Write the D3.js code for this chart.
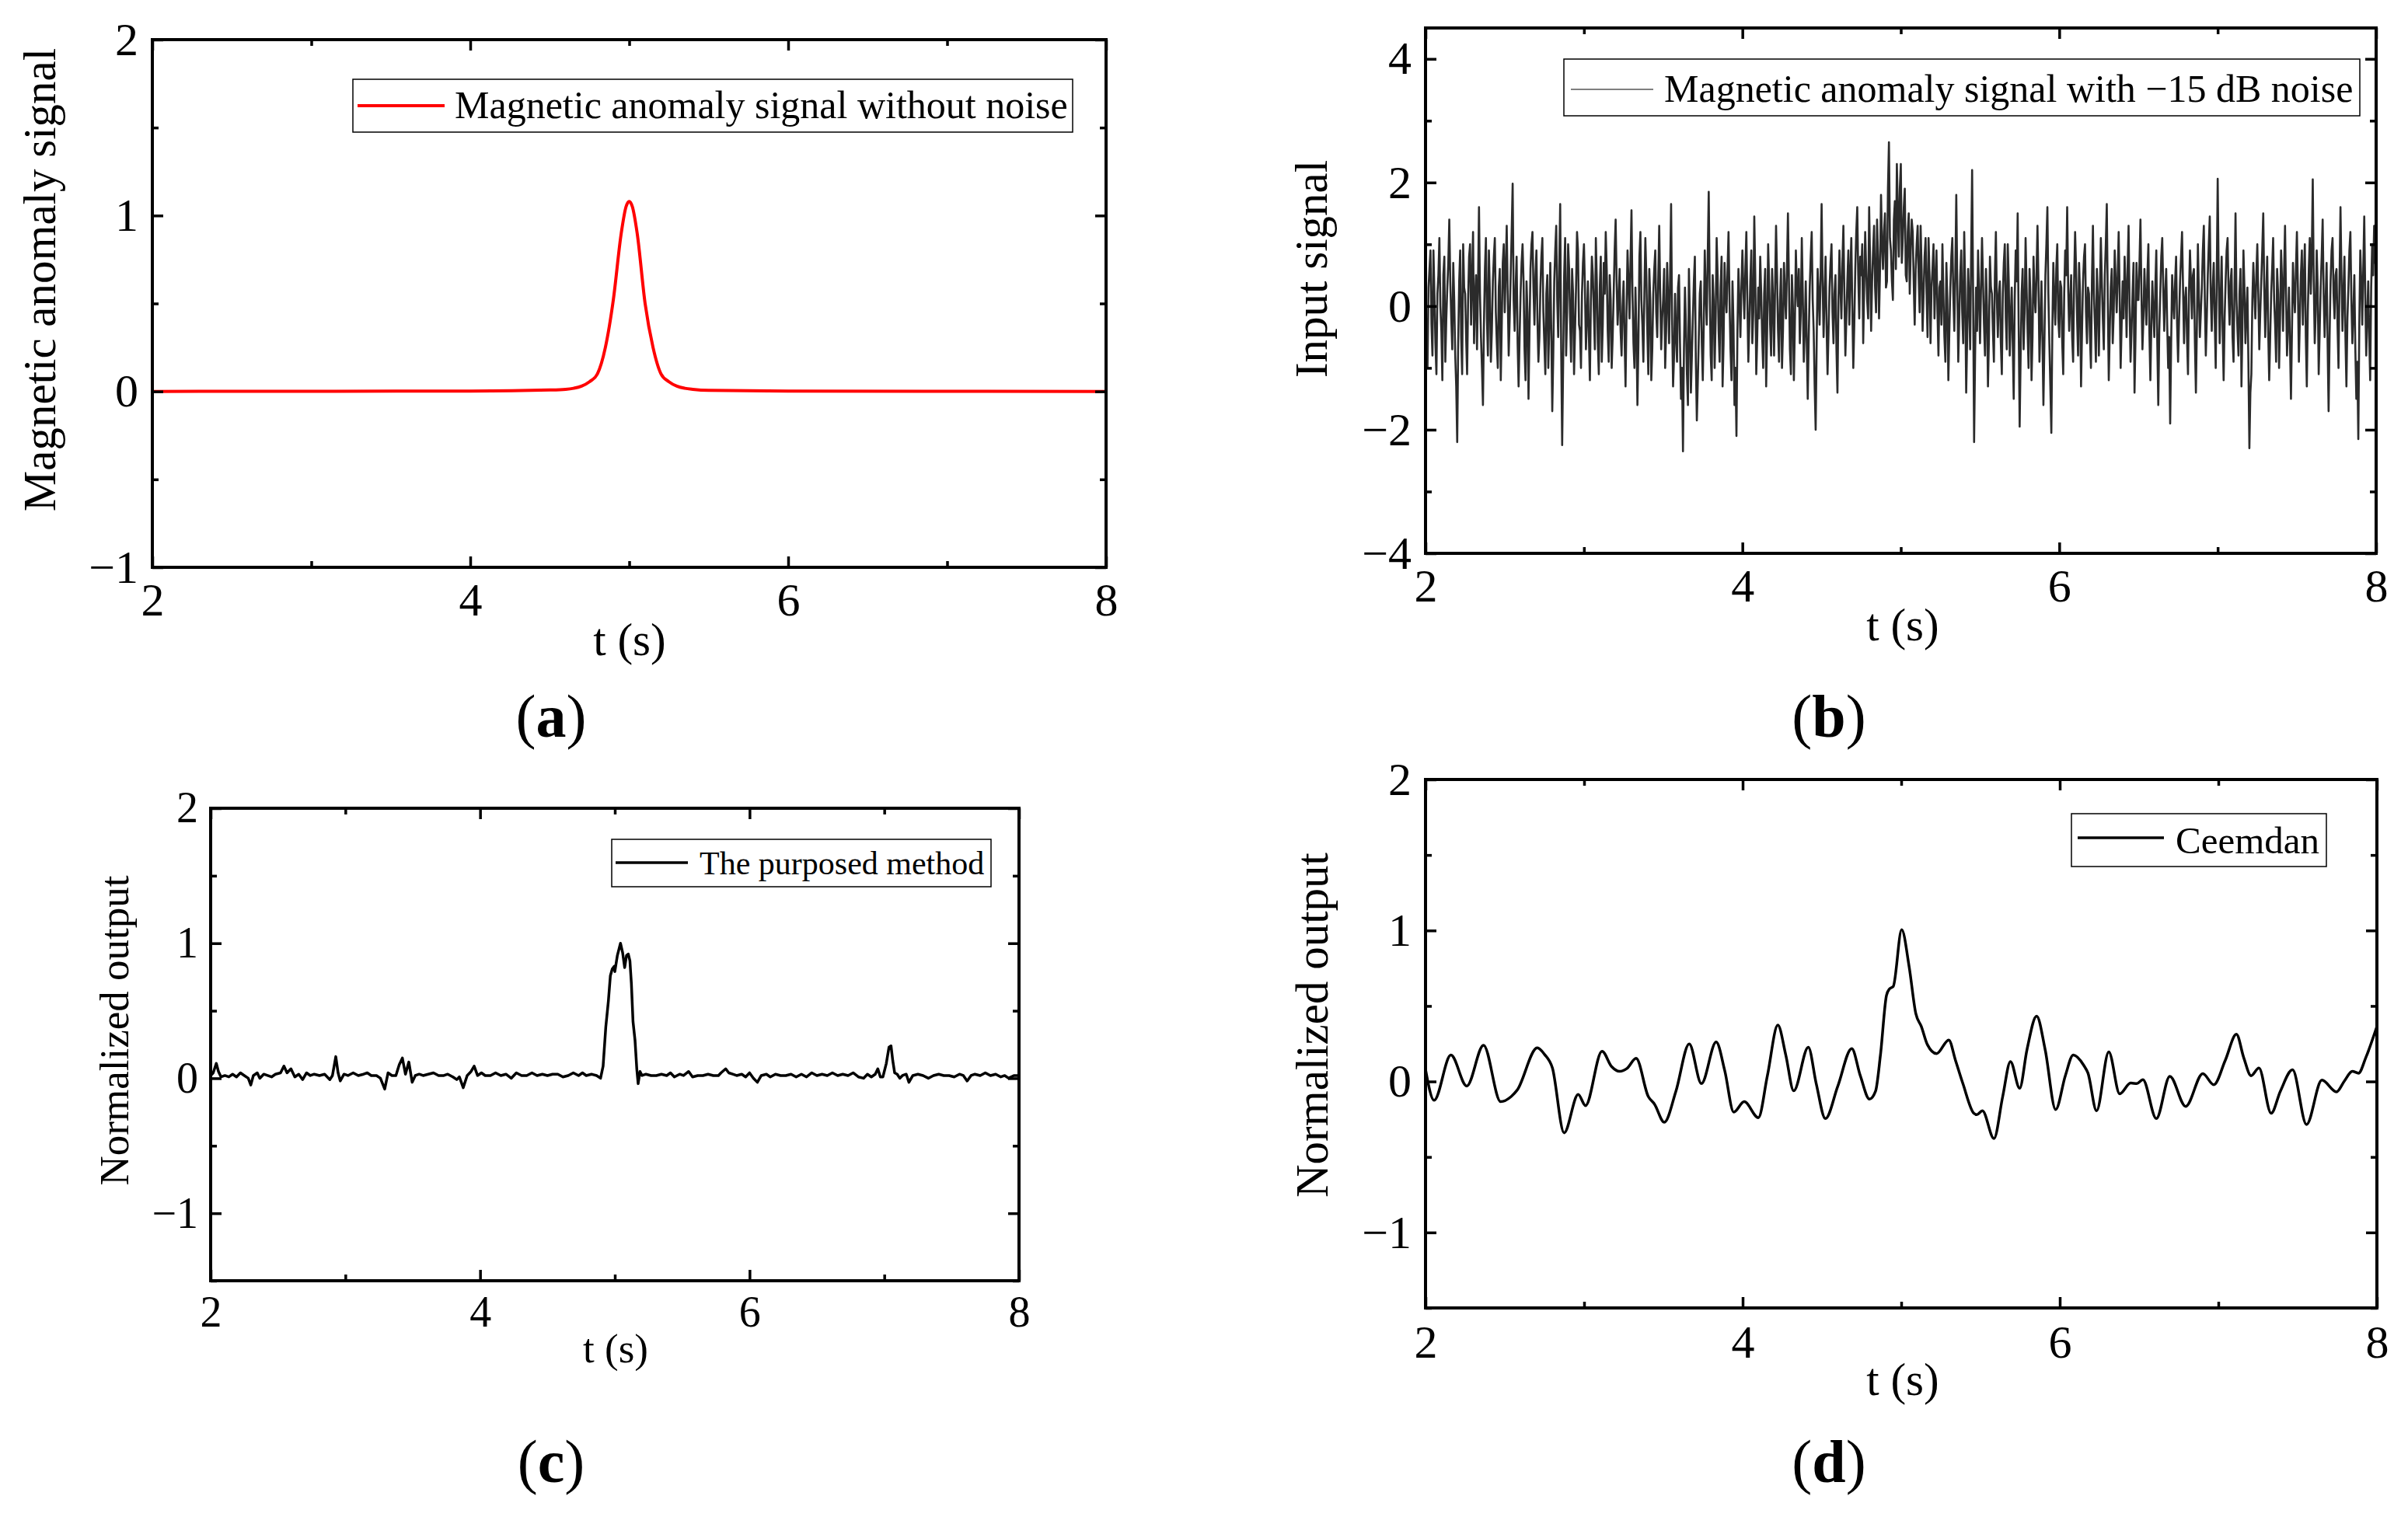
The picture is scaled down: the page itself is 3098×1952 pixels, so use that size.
<!DOCTYPE html>
<html>
<head>
<meta charset="utf-8">
<script src="https://cdn.jsdelivr.net/npm/d3@7"></script>
<style>
html, body { margin: 0; padding: 0; background: #fff; }
svg text { font-family: "Liberation Serif", "Times New Roman", serif; fill: #000; }
</style>
</head>
<body>
<div id="chart"></div>
<script>
// shared axis ticks (time axis, seconds)
var xMajor = [2, 4, 6, 8];
var xMinor = [3, 5, 7];

// (a) clean anomaly
var aTime   = [2, 4, 4.5, 4.6, 4.65, 4.7, 4.75, 4.8, 4.85, 4.9, 4.95, 4.98, 5.0, 5.02, 5.05, 5.1, 5.15, 5.2, 5.25, 5.3, 5.35, 5.4, 5.5, 6, 8];
var aSignal = [0, 0.002, 0.008, 0.012, 0.018, 0.03, 0.055, 0.1, 0.25, 0.52, 0.9, 1.05, 1.08, 1.05, 0.9, 0.5, 0.25, 0.1, 0.055, 0.03, 0.018, 0.012, 0.006, 0.002, 0];
var aYMajor = [-1, 0, 1, 2];
var aYMinor = [-0.5, 0.5, 1.5];

// (b) noisy input, evenly sampled from t = 2 to t = 8
var bStart = 2, bEnd = 8;
var bInput = [
  0.1,-0.4,-1.0,0.3,0.6,0.9,-0.3,-0.8,0.9,0.2,
  -0.6,-1.1,0.2,0.5,1.1,0.0,-0.4,-1.2,0.5,0.8,
  -0.9,-0.2,0.3,0.7,1.4,0.4,-0.2,-0.7,0.7,0.1,
  -0.8,-1.3,-2.2,-0.6,0.4,0.9,-0.5,-1.1,1.0,0.3,
  0.2,-0.5,-1.1,0.1,0.8,1.0,-0.3,0.4,1.2,-0.6,
  0.1,0.5,-0.7,0.3,1.6,0.2,-0.5,-1.0,-1.6,-0.3,
  0.6,1.1,-0.2,-0.8,0.9,0.2,-0.9,-0.4,0.4,0.8,
  1.1,-0.1,-0.6,-1.0,0.3,0.6,-1.2,-0.3,0.7,1.0,
  -0.1,0.6,1.3,0.2,-0.8,-0.2,0.5,1.2,1.98,0.1,
  -0.4,0.3,0.8,-0.6,-1.3,-0.5,0.2,0.7,1.0,0.4,
  -0.7,-1.2,0.4,-0.1,-1.5,-0.4,0.6,1.0,1.2,0.3,
  -0.3,0.5,0.9,-0.2,-0.9,-0.5,0.3,0.8,1.1,-0.1,
  -0.6,-1.1,0.2,0.5,-1.0,-0.3,0.7,-0.4,-1.7,-0.8,
  0.4,0.9,1.3,0.1,-0.5,0.6,1.65,-0.7,-2.25,-0.9,
  0.5,1.1,-0.8,-0.1,1.0,0.6,-0.2,-0.9,0.6,0.2,
  -1.1,-0.4,0.3,1.2,0.9,-0.3,-0.4,-1.0,0.2,0.7,
  1.0,0.3,-0.7,-0.2,0.4,-0.5,-1.2,0.1,0.8,0.5,
  -0.1,-0.7,1.1,0.4,-0.6,-1.1,0.3,0.8,-0.9,-0.3,
  0.7,0.2,1.2,0.6,-0.4,-0.9,0.5,0.1,-1.0,-0.5,
  0.2,0.9,1.4,0.4,-0.3,0.1,0.6,-0.4,-0.8,0.0,
  0.4,-0.5,-1.3,-0.1,0.9,0.4,-0.2,0.7,1.55,0.2,
  -0.6,-1.0,0.3,-0.4,-1.6,-0.6,0.8,1.2,0.1,-0.3,
  -0.9,0.2,1.1,0.5,-0.4,-1.1,0.6,0.1,-1.2,-0.7,
  0.2,0.6,0.9,-0.1,-0.5,0.4,1.3,0.2,-0.7,-0.2,
  0.1,0.6,-1.0,-0.4,0.7,0.1,-0.6,0.5,1.65,-0.2,
  -1.3,-0.8,0.2,-0.5,-0.9,0.3,0.5,-0.6,-1.5,-1.0,
  -2.35,-0.7,0.3,-0.3,-1.1,-1.6,0.6,-0.2,-1.4,-0.8,
  -0.2,0.4,0.8,-0.9,-1.85,-1.2,-0.5,0.2,0.4,-0.6,
  -1.2,-0.3,0.9,0.2,-0.3,0.8,1.85,0.3,-0.8,-1.2,
  0.5,0.1,-1.0,-0.2,1.1,0.5,-0.4,-0.9,0.3,0.8,
  -1.3,-0.6,0.7,0.2,-0.1,0.6,1.2,0.1,-0.7,-1.2,
  0.4,-0.3,-1.6,-1.0,-2.1,-0.4,0.6,0.1,-0.5,0.3,
  0.9,0.3,-0.2,0.6,1.2,0.1,-0.9,-0.3,0.4,0.9,
  -0.6,-0.1,1.45,0.5,-1.1,-0.5,0.3,-0.2,0.8,0.2,
  -0.5,-1.0,0.2,0.6,-1.3,-0.4,1.0,0.4,-0.3,-0.8,
  0.6,0.1,-0.8,0.3,1.3,0.5,-0.4,-0.9,0.1,0.6,
  -1.0,-0.4,0.7,0.2,-0.2,0.6,1.5,0.4,-0.7,-1.1,
  0.5,0.0,-1.2,-0.3,0.9,0.3,0.0,0.6,-0.6,-0.1,
  1.1,0.2,-0.9,-0.4,0.4,-0.6,-1.5,-0.5,0.3,0.8,
  1.2,0.1,-0.4,-1.3,-2.0,-0.6,0.6,0.2,-0.3,0.5,
  1.65,0.4,-0.5,0.2,0.8,-0.3,-1.1,-0.4,0.3,0.7,
  1.0,-0.1,-0.6,0.2,0.5,-0.7,-1.4,0.1,0.9,0.3,
  -0.2,0.7,1.3,0.2,-0.8,-0.2,0.4,0.9,-0.3,0.5,
  1.1,0.0,-1.0,-0.3,0.6,1.2,1.6,0.5,-0.2,0.8,
  0.5,1.0,-0.6,0.3,1.2,0.6,0.1,-0.2,1.6,0.7,
  -0.4,0.4,0.9,1.3,0.3,-0.1,1.4,0.8,-0.2,0.6,
  1.8,1.0,0.6,1.2,1.5,0.3,0.4,1.9,2.65,1.1,
  0.9,0.4,0.1,1.4,1.7,0.6,2.3,1.5,0.8,1.9,
  2.3,0.7,1.1,1.6,1.9,0.5,0.4,1.2,1.5,0.2,
  0.9,1.4,1.2,0.4,-0.3,0.6,1.0,1.3,0.5,-0.1,
  1.3,0.6,-0.4,0.2,0.8,1.1,0.2,-0.5,1.1,0.5,
  -0.6,0.3,0.6,1.0,-0.2,0.4,0.9,-0.1,-0.8,0.3,
  0.4,-0.3,1.0,0.2,-0.5,-0.9,0.7,0.1,-1.2,-0.4,
  0.3,0.8,1.1,0.2,-0.4,0.5,1.8,0.4,-0.9,-0.2,
  0.5,0.9,-0.1,-0.6,1.2,0.3,-1.4,-0.5,0.6,0.1,
  -0.7,0.8,2.2,0.2,-2.2,-0.8,0.3,-0.4,0.9,0.2,
  -0.6,0.3,1.1,0.4,-0.3,-0.8,0.6,0.0,-1.3,-0.5,
  0.8,0.3,0.2,-0.4,-0.9,0.5,1.2,0.1,-0.5,0.2,
  0.4,-0.6,-1.1,0.2,0.7,1.0,-0.2,-0.7,1.0,0.4,
  -0.8,-0.2,0.3,-0.6,-1.5,0.1,0.9,0.4,1.5,-0.3,
  -1.95,-0.8,0.2,0.6,-0.7,-0.1,1.1,0.3,-0.4,-1.0,
  0.6,0.1,-1.2,-0.5,0.8,0.2,-0.1,0.5,1.3,0.4,
  -0.9,-0.3,0.4,-0.5,-1.6,-0.6,0.5,1.0,1.6,0.2,
  -0.6,-1.3,-2.05,-0.4,0.7,0.1,-0.3,0.6,1.0,-0.2,
  -0.5,0.4,0.3,-0.6,-1.1,0.2,0.9,0.5,1.6,0.3,
  -0.4,0.1,0.5,-0.5,-0.9,0.4,1.2,0.6,-0.2,-0.8,
  0.7,0.2,-1.3,-0.4,0.4,0.8,1.0,-0.1,-0.6,0.3,
  0.2,-0.5,-1.0,0.4,1.3,0.2,-0.3,-0.9,0.6,0.1,
  -0.8,0.2,1.1,0.4,-0.2,-0.7,0.5,1.0,1.65,0.1,
  -1.2,-0.4,0.3,0.6,-0.6,-0.1,0.9,0.4,-0.1,0.5,
  1.2,0.2,-1.0,-0.3,0.4,-0.2,0.8,0.3,-0.5,0.6,
  1.3,0.0,-0.9,-0.4,0.2,0.7,-1.4,-0.5,0.7,0.1,
  0.1,0.7,1.4,0.2,-0.7,-0.2,0.6,0.1,-0.3,0.5,
  1.0,-0.4,-1.2,-0.3,0.4,-0.1,-0.5,0.3,0.9,-0.6,
  -1.6,-0.4,0.2,0.8,1.1,0.3,-0.4,0.2,0.6,-0.3,
  -1.0,-0.5,-1.9,-0.6,0.5,0.1,-0.2,0.4,0.8,-0.3,
  -0.9,-0.2,0.4,0.8,1.2,0.3,-0.6,0.1,0.3,-0.5,
  -1.1,0.2,0.9,0.4,-0.2,0.5,0.6,-0.6,-1.4,-0.3,
  1.0,0.2,-0.5,-0.1,0.3,0.9,1.3,0.1,-0.8,-0.2,
  0.5,1.0,1.45,0.2,-0.4,0.3,0.7,-0.2,-1.0,0.4,
  2.06,0.5,-0.6,0.1,0.8,-0.4,-1.2,-0.2,0.4,0.9,
  1.1,0.2,-0.3,0.4,0.6,-0.5,-0.9,0.3,1.5,0.1,
  -0.4,-0.8,0.2,0.6,-1.3,-0.3,0.9,0.3,-0.6,-0.1,
  0.3,-0.9,-2.3,-1.4,-1.1,0.1,0.7,0.2,-0.2,0.5,
  1.0,0.2,-0.7,-0.1,0.4,0.9,1.5,0.3,-0.5,0.2,
  0.8,-0.4,-1.2,-0.5,0.2,0.6,1.1,0.1,-0.3,-0.9,
  0.6,0.2,-1.0,-0.2,0.9,0.4,-0.4,0.5,1.3,0.2,
  -0.8,-0.3,0.3,-0.6,-1.5,-0.4,0.7,0.2,-0.1,0.6,
  1.2,0.3,-0.9,-0.2,0.5,0.9,-0.3,0.4,1.0,-0.5,
  -1.3,-0.1,0.6,1.1,0.2,0.8,2.05,0.4,-0.6,-0.1,
  0.9,0.3,-1.1,-0.4,0.3,0.8,1.4,0.2,-0.5,0.1,
  0.7,-0.6,-1.7,-0.5,0.4,0.9,1.1,0.2,-0.2,0.5,
  0.6,-0.3,-1.0,0.4,1.6,0.5,-0.4,0.2,0.8,-0.5,
  -1.3,-0.2,0.3,0.9,1.2,0.1,-0.6,-0.1,0.5,-0.7,
  -1.5,-0.9,-2.15,-0.3,0.9,0.4,-0.3,0.6,1.45,0.2,
  -0.8,-0.2,0.4,-0.5,-1.2,0.3,1.0,0.5,1.3,0.7,
  1.0
];
var bYMajor = [-4, -2, 0, 2, 4];
var bYMinor = [-3, -1, 1, 3];

// (c) proposed method output
var cTime = [
  2.000,2.019,2.042,2.058,2.077,2.106,2.135,2.163,2.192,2.221,
  2.250,2.279,2.298,2.317,2.346,2.365,2.394,2.423,2.452,2.481,
  2.519,2.544,2.567,2.596,2.625,2.654,2.683,2.712,2.740,2.769,
  2.808,2.846,2.885,2.904,2.929,2.946,2.962,2.990,3.019,3.058,
  3.096,3.135,3.163,3.192,3.231,3.260,3.292,3.317,3.346,3.375,
  3.400,3.423,3.446,3.471,3.496,3.519,3.548,3.577,3.615,3.654,
  3.692,3.731,3.760,3.798,3.827,3.846,3.875,3.904,3.933,3.956,
  3.981,4.010,4.038,4.077,4.115,4.154,4.192,4.231,4.269,4.308,
  4.346,4.385,4.423,4.462,4.500,4.538,4.577,4.615,4.654,4.692,
  4.731,4.760,4.788,4.827,4.865,4.894,4.913,4.933,4.952,4.967,
  4.981,4.996,
  5.000,5.019,5.042,5.058,5.073,5.087,5.100,5.112,5.123,5.135,
  5.150,5.163,5.173,5.187,5.202,5.231,5.269,5.308,5.346,5.385,
  5.413,5.442,5.481,5.510,5.548,5.577,5.615,5.654,5.692,5.731,
  5.769,5.788,5.823,5.846,5.875,5.904,5.942,5.971,6.000,6.029,
  6.058,6.087,6.125,6.154,6.192,6.231,6.269,6.308,6.346,6.385,
  6.423,6.462,6.500,6.538,6.577,6.615,6.654,6.692,6.731,6.769,
  6.808,6.846,6.875,6.904,6.933,6.952,6.971,6.990,7.015,7.035,
  7.050,7.063,7.077,7.096,7.115,7.135,7.163,7.183,7.212,7.250,
  7.288,7.327,7.365,7.404,7.442,7.481,7.519,7.558,7.587,7.615,
  7.644,7.673,7.712,7.750,7.788,7.827,7.865,7.894,7.923,7.962,
  7.996
];
var cOutput = [
  0.02,0.04,0.11,0.05,0.01,0.02,0.01,0.03,0.01,0.04,
  0.02,0.00,-0.05,0.02,0.04,0.00,0.03,0.02,0.01,0.03,
  0.04,0.09,0.04,0.07,0.01,0.03,-0.01,0.04,0.02,0.03,
  0.02,0.03,-0.01,0.02,0.16,0.04,-0.02,0.03,0.02,0.04,
  0.02,0.03,0.04,0.02,0.02,0.00,-0.08,0.04,0.02,0.02,
  0.10,0.15,0.03,0.12,-0.03,0.02,0.03,0.02,0.03,0.04,
  0.02,0.02,0.03,0.01,-0.01,0.01,-0.07,0.02,0.05,0.09,
  0.02,0.04,0.02,0.02,0.04,0.02,0.03,0.00,0.04,0.02,
  0.02,0.04,0.02,0.03,0.02,0.03,0.03,0.01,0.02,0.04,
  0.02,0.04,0.02,0.03,0.02,0.00,0.09,0.38,0.57,0.76,
  0.81,0.83,
  0.79,0.91,1.00,0.93,0.82,0.91,0.92,0.87,0.70,0.42,
  0.28,0.07,-0.04,0.05,0.02,0.03,0.02,0.02,0.03,0.02,
  0.04,0.01,0.03,0.02,0.05,0.01,0.02,0.02,0.03,0.02,
  0.02,0.04,0.07,0.04,0.03,0.02,0.03,0.01,0.04,0.00,
  -0.03,0.02,0.03,0.01,0.03,0.02,0.02,0.03,0.01,0.03,
  0.01,0.04,0.02,0.03,0.02,0.04,0.02,0.03,0.02,0.04,
  0.01,0.00,0.03,0.01,0.03,0.07,0.01,0.01,0.11,0.23,
  0.24,0.13,0.04,0.03,0.00,0.02,0.03,-0.03,0.02,0.03,
  0.02,0.00,0.02,0.03,0.02,0.02,0.01,0.03,0.02,-0.02,
  0.02,0.03,0.02,0.04,0.02,0.03,0.01,0.02,0.00,0.02,
  0.02
];
var normYMajor = [-1, 0, 1, 2];
var normYMinor = [-1.5, -0.5, 0.5, 1.5];

// (d) CEEMDAN output (turning points)
var dTime = [
  2.0,2.054,2.16,2.26,2.366,2.474,2.54,2.578,2.705,2.75,2.80,2.874,2.963,3.009,3.113,3.174,
  3.224,3.27,3.328,3.405,3.444,3.506,3.579,3.663,3.74,3.833,3.887,3.944,4.01,4.099,4.156,4.222,
  4.272,4.322,4.414,4.464,4.522,4.6,4.688,4.742,4.80,4.838,4.869,4.907,4.926,4.95,5.003,5.05,
  5.092,5.127,5.165,5.223,5.30,5.342,5.389,5.458,5.477,5.512,5.585,5.64,5.689,5.747,5.793,5.854,
  5.908,5.974,6.035,6.085,6.151,6.178,6.232,6.309,6.378,6.447,6.486,6.524,6.609,6.694,6.794,6.902,
  6.971,7.044,7.114,7.16,7.206,7.256,7.333,7.391,7.468,7.556,7.653,7.745,7.795,7.845,7.884,7.93,8.0
];
var dOutput = [
  0.08,-0.125,0.175,-0.03,0.24,-0.134,-0.10,-0.057,0.223,0.18,0.09,-0.34,-0.086,-0.16,0.20,0.098,
  0.067,0.086,0.153,-0.10,-0.15,-0.27,-0.065,0.249,-0.014,0.261,0.072,-0.203,-0.134,-0.24,0.038,0.373,
  0.175,-0.062,0.227,-0.014,-0.246,-0.031,0.218,0.038,-0.117,-0.065,0.175,0.57,0.613,0.63,1.005,0.76,
  0.45,0.364,0.244,0.184,0.275,0.141,-0.014,-0.211,-0.22,-0.194,-0.378,-0.10,0.132,-0.045,0.21,0.433,
  0.21,-0.186,0.038,0.175,0.107,0.055,-0.194,0.196,-0.082,-0.01,-0.014,0.012,-0.246,0.034,-0.165,0.052,
  -0.022,0.141,0.313,0.158,0.038,0.089,-0.211,-0.065,0.077,-0.285,0.009,-0.069,0.003,0.067,0.055,0.158,0.364
];

var W = 3098, H = 1952;
var svg = d3.select("#chart").append("svg").attr("width", W).attr("height", H);
svg.append("rect").attr("width", W).attr("height", H).attr("fill", "#fff");

function fmt(d) { return d < 0 ? "\u2212" + Math.abs(d) : String(d); }

// sample times for the evenly sampled input
var bStep = (bEnd - bStart) / (bInput.length - 1);
var bTime = bInput.map(function(v, i) { return bStart + i * bStep; });

var panels = [
  { name: "a", t: aTime, v: aSignal, curve: d3.curveMonotoneX, color: "#ff0000", lw: 4,
    left: 196, right: 1423, top: 51, bottom: 730, yDomain: [-1, 2], yMajor: aYMajor, yMinor: aYMinor,
    tickFs: 60, labelFs: 59, legFs: 50, xPad: 19, yPad: 18,
    yLabel: "Magnetic anomaly signal", yLabX: 71, yLabY: 360, xLabBase: 843, xLabX: 810,
    tag: "a", tagX: 709, tagBase: 948,
    leg: { x0: 454, x1: 1380, y0: 102, y1: 170, lx0: 460, lx1: 572, ly: 136, tx: 585, tb: 152,
           text: "Magnetic anomaly signal without noise", color: "#ff0000", lw: 4 } },
  { name: "b", t: bTime, v: bInput, curve: d3.curveLinear, color: "#2b2b2b", lw: 2.6,
    left: 1834, right: 3057, top: 36, bottom: 712, yDomain: [-4, 4.5], yMajor: bYMajor, yMinor: bYMinor,
    tickFs: 60, labelFs: 59, legFs: 50, xPad: 19, yPad: 18,
    yLabel: "Input signal", yLabX: 1707, yLabY: 346, xLabBase: 824, xLabX: 2448,
    tag: "b", tagX: 2353, tagBase: 948,
    leg: { x0: 2012, x1: 3036, y0: 76, y1: 149, lx0: 2021, lx1: 2127, ly: 115, tx: 2141, tb: 131,
           text: "Magnetic anomaly signal with \u221215 dB noise", color: "#555555", lw: 1.5 } },
  { name: "c", t: cTime, v: cOutput, curve: d3.curveLinear, color: "#000000", lw: 3.5,
    left: 271, right: 1311, top: 1040, bottom: 1648, yDomain: [-1.5, 2], yMajor: normYMajor, yMinor: normYMinor,
    tickFs: 56, labelFs: 53, legFs: 42, xPad: 19, yPad: 16,
    yLabel: "Normalized output", yLabX: 165, yLabY: 1326, xLabBase: 1753, xLabX: 792,
    tag: "c", tagX: 709, tagBase: 1907,
    leg: { x0: 787, x1: 1275, y0: 1080, y1: 1141, lx0: 792, lx1: 885, ly: 1110, tx: 900, tb: 1125,
           text: "The purposed method", color: "#000000", lw: 3.5 } },
  { name: "d", t: dTime, v: dOutput, curve: d3.curveMonotoneX, color: "#000000", lw: 3.5,
    left: 1834, right: 3058, top: 1003, bottom: 1683, yDomain: [-1.5, 2], yMajor: normYMajor, yMinor: normYMinor,
    tickFs: 60, labelFs: 59, legFs: 49, xPad: 21, yPad: 18,
    yLabel: "Normalized output", yLabX: 1708, yLabY: 1319, xLabBase: 1795, xLabX: 2448,
    tag: "d", tagX: 2353, tagBase: 1907,
    leg: { x0: 2665, x1: 2993, y0: 1047, y1: 1115, lx0: 2673, lx1: 2784, ly: 1078, tx: 2799, tb: 1098,
           text: "Ceemdan", color: "#000000", lw: 3.5 } }
];

function tickLines(g, axis, tr) {
  g.append("g").attr("transform", tr).call(axis)
    .call(function(s) { s.select(".domain").remove(); })
    .selectAll("line").attr("stroke", "#000").attr("stroke-width", 3.5);
}

function drawPanel(p) {
  var x = d3.scaleLinear().domain([2, 8]).range([p.left, p.right]);
  var y = d3.scaleLinear().domain(p.yDomain).range([p.bottom, p.top]);
  var g = svg.append("g").attr("class", "panel-" + p.name);

  var clipId = "clip-" + p.name;
  g.append("clipPath").attr("id", clipId).append("rect")
    .attr("x", p.left).attr("y", p.top)
    .attr("width", p.right - p.left).attr("height", p.bottom - p.top);

  var n = Math.min(p.t.length, p.v.length);
  var pts = d3.range(n).map(function(i) { return [p.t[i], p.v[i]]; });
  var line = d3.line().x(function(d) { return x(d[0]); }).y(function(d) { return y(d[1]); }).curve(p.curve);
  g.append("path").datum(pts)
    .attr("clip-path", "url(#" + clipId + ")")
    .attr("fill", "none").attr("stroke", p.color).attr("stroke-width", p.lw)
    .attr("stroke-linejoin", "round")
    .attr("d", line);

  // inward ticks on all four sides
  var maj = 14, mnr = 8;
  tickLines(g, d3.axisBottom(x).tickValues(xMajor).tickSize(-maj).tickFormat(""), "translate(0," + p.bottom + ")");
  tickLines(g, d3.axisBottom(x).tickValues(xMinor).tickSize(-mnr).tickFormat(""), "translate(0," + p.bottom + ")");
  tickLines(g, d3.axisTop(x).tickValues(xMajor).tickSize(-maj).tickFormat(""), "translate(0," + p.top + ")");
  tickLines(g, d3.axisTop(x).tickValues(xMinor).tickSize(-mnr).tickFormat(""), "translate(0," + p.top + ")");
  tickLines(g, d3.axisLeft(y).tickValues(p.yMajor).tickSize(-maj).tickFormat(""), "translate(" + p.left + ",0)");
  tickLines(g, d3.axisLeft(y).tickValues(p.yMinor).tickSize(-mnr).tickFormat(""), "translate(" + p.left + ",0)");
  tickLines(g, d3.axisRight(y).tickValues(p.yMajor).tickSize(-maj).tickFormat(""), "translate(" + p.right + ",0)");
  tickLines(g, d3.axisRight(y).tickValues(p.yMinor).tickSize(-mnr).tickFormat(""), "translate(" + p.right + ",0)");

  // tick labels
  g.append("g").attr("transform", "translate(0," + p.bottom + ")")
    .call(d3.axisBottom(x).tickValues(xMajor).tickSize(0).tickPadding(p.xPad).tickFormat(fmt))
    .attr("font-size", p.tickFs).attr("font-family", null)
    .call(function(s) { s.select(".domain").remove(); });
  g.append("g").attr("transform", "translate(" + p.left + ",0)")
    .call(d3.axisLeft(y).tickValues(p.yMajor).tickSize(0).tickPadding(p.yPad).tickFormat(fmt))
    .attr("font-size", p.tickFs).attr("font-family", null)
    .call(function(s) { s.select(".domain").remove(); });

  // frame
  g.append("rect").attr("x", p.left).attr("y", p.top)
    .attr("width", p.right - p.left).attr("height", p.bottom - p.top)
    .attr("fill", "none").attr("stroke", "#000").attr("stroke-width", 4);

  // axis titles
  g.append("text").attr("transform", "translate(" + p.yLabX + "," + p.yLabY + ") rotate(-90)")
    .attr("text-anchor", "middle").attr("font-size", p.labelFs).text(p.yLabel);
  g.append("text").attr("x", p.xLabX).attr("y", p.xLabBase)
    .attr("text-anchor", "middle").attr("font-size", p.labelFs).text("t (s)");

  // legend
  var L = p.leg;
  g.append("rect").attr("x", L.x0).attr("y", L.y0).attr("width", L.x1 - L.x0).attr("height", L.y1 - L.y0)
    .attr("fill", "#fff").attr("stroke", "#000").attr("stroke-width", 1.5);
  g.append("line").attr("x1", L.lx0).attr("x2", L.lx1).attr("y1", L.ly).attr("y2", L.ly)
    .attr("stroke", L.color).attr("stroke-width", L.lw);
  g.append("text").attr("x", L.tx).attr("y", L.tb).attr("font-size", p.legFs).text(L.text);

  // sub-figure tag
  var tag = g.append("text").attr("x", p.tagX).attr("y", p.tagBase)
    .attr("text-anchor", "middle").attr("font-size", 78);
  tag.append("tspan").text("(");
  tag.append("tspan").attr("font-weight", "bold").text(p.tag);
  tag.append("tspan").text(")");
}

panels.forEach(drawPanel);
</script>
</body>
</html>
